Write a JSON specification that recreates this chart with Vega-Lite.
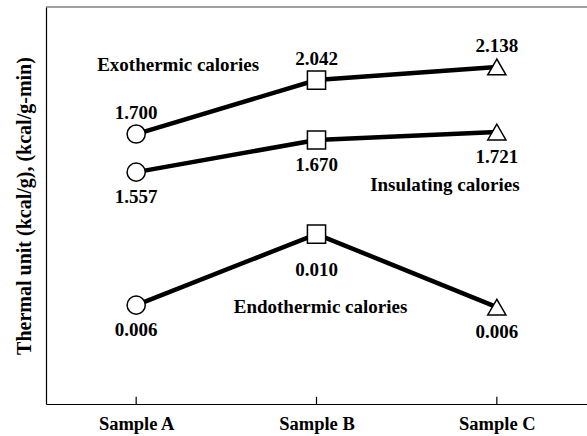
{
  "$schema": "https://vega.github.io/schema/vega-lite/v6.json",
  "width": 541,
  "height": 397,
  "autosize": {"type": "none"},
  "padding": {"left": 46, "top": 7, "right": 0, "bottom": 32},
  "background": "white",
  "config": {"view": {"stroke": null}, "font": "Liberation Serif"},
  "datasets": {
    "points": [
      {"series": "Exothermic calories", "sample": "Sample A", "plot": 68.0, "value": "1.700", "place": "above"},
      {"series": "Exothermic calories", "sample": "Sample B", "plot": 81.6, "value": "2.042", "place": "above"},
      {"series": "Exothermic calories", "sample": "Sample C", "plot": 84.9, "value": "2.138", "place": "above"},
      {"series": "Insulating calories", "sample": "Sample A", "plot": 58.4, "value": "1.557", "place": "below"},
      {"series": "Insulating calories", "sample": "Sample B", "plot": 66.5, "value": "1.670", "place": "below"},
      {"series": "Insulating calories", "sample": "Sample C", "plot": 68.5, "value": "1.721", "place": "below"},
      {"series": "Endothermic calories", "sample": "Sample A", "plot": 24.9, "value": "0.006", "place": "below"},
      {"series": "Endothermic calories", "sample": "Sample B", "plot": 42.8, "value": "0.010", "place": "far"},
      {"series": "Endothermic calories", "sample": "Sample C", "plot": 24.4, "value": "0.006", "place": "below"}
    ],
    "notes": [
      {"series": "Exothermic calories", "sample": "Sample A", "plot": 85.4},
      {"series": "Insulating calories", "sample": "Sample C", "plot": 55.2},
      {"series": "Endothermic calories", "sample": "Sample B", "plot": 24.4}
    ],
    "ticks": [
      {"sample": "Sample A", "from": 0, "to": 1.8},
      {"sample": "Sample B", "from": 0, "to": 1.8},
      {"sample": "Sample C", "from": 0, "to": 1.8}
    ]
  },
  "layer": [
    {
      "data": {"name": "points"},
      "mark": {"type": "line", "color": "black", "strokeWidth": 4.5},
      "encoding": {
        "x": {
          "field": "sample", "type": "ordinal",
          "scale": {"type": "point", "padding": 0.5},
          "sort": ["Sample A", "Sample B", "Sample C"],
          "axis": {
            "title": null, "labelAngle": 0, "labelFontSize": 18.5, "labelFontWeight": "bold",
            "labelColor": "black", "domainColor": "black", "domainWidth": 1.2,
            "ticks": false, "labelPadding": 10, "grid": false
          }
        },
        "y": {
          "field": "plot", "type": "quantitative",
          "scale": {"domain": [0, 100], "nice": false, "zero": true},
          "axis": {
            "title": "Thermal unit (kcal/g), (kcal/g-min)", "titleFontSize": 20, "titleFontWeight": "bold",
            "titleColor": "black", "titlePadding": 12, "labels": false, "ticks": false, "grid": false,
            "domainColor": "black", "domainWidth": 1.2
          }
        },
        "detail": {"field": "series"}
      }
    },
    {
      "data": {"values": [{}]},
      "mark": {"type": "rule", "color": "#444", "strokeWidth": 1},
      "encoding": {"y": {"datum": 100}}
    },
    {
      "data": {"name": "ticks"},
      "mark": {"type": "rule", "color": "black", "strokeWidth": 1.2},
      "encoding": {
        "x": {"field": "sample", "type": "ordinal", "sort": ["Sample A", "Sample B", "Sample C"]},
        "y": {"field": "from", "type": "quantitative"},
        "y2": {"field": "to"}
      }
    },
    {
      "data": {"name": "points"},
      "mark": {"type": "point", "filled": true, "fill": "white", "stroke": "black", "strokeWidth": 1.5, "opacity": 1},
      "encoding": {
        "x": {"field": "sample", "type": "ordinal", "sort": ["Sample A", "Sample B", "Sample C"]},
        "y": {"field": "plot", "type": "quantitative"},
        "shape": {
          "field": "sample", "type": "nominal",
          "scale": {"domain": ["Sample A", "Sample B", "Sample C"], "range": ["circle", "square", "triangle-up"]},
          "legend": null
        },
        "size": {"value": 330}
      }
    },
    {
      "data": {"name": "points"},
      "transform": [{"filter": "datum.place === 'above'"}],
      "mark": {"type": "text", "fontSize": 19, "fontWeight": "bold", "color": "black", "baseline": "middle", "dy": -21},
      "encoding": {
        "x": {"field": "sample", "type": "ordinal", "sort": ["Sample A", "Sample B", "Sample C"]},
        "y": {"field": "plot", "type": "quantitative"},
        "text": {"field": "value"}
      }
    },
    {
      "data": {"name": "points"},
      "transform": [{"filter": "datum.place === 'below'"}],
      "mark": {"type": "text", "fontSize": 19, "fontWeight": "bold", "color": "black", "baseline": "middle", "dy": 25},
      "encoding": {
        "x": {"field": "sample", "type": "ordinal", "sort": ["Sample A", "Sample B", "Sample C"]},
        "y": {"field": "plot", "type": "quantitative"},
        "text": {"field": "value"}
      }
    },
    {
      "data": {"name": "points"},
      "transform": [{"filter": "datum.place === 'far'"}],
      "mark": {"type": "text", "fontSize": 19, "fontWeight": "bold", "color": "black", "baseline": "middle", "dy": 36},
      "encoding": {
        "x": {"field": "sample", "type": "ordinal", "sort": ["Sample A", "Sample B", "Sample C"]},
        "y": {"field": "plot", "type": "quantitative"},
        "text": {"field": "value"}
      }
    },
    {
      "data": {"name": "notes"},
      "transform": [{"filter": "datum.series === 'Exothermic calories'"}],
      "mark": {"type": "text", "fontSize": 19, "fontWeight": "bold", "color": "black", "baseline": "middle", "dx": 42},
      "encoding": {
        "x": {"field": "sample", "type": "ordinal", "sort": ["Sample A", "Sample B", "Sample C"]},
        "y": {"field": "plot", "type": "quantitative"},
        "text": {"field": "series"}
      }
    },
    {
      "data": {"name": "notes"},
      "transform": [{"filter": "datum.series === 'Insulating calories'"}],
      "mark": {"type": "text", "fontSize": 19, "fontWeight": "bold", "color": "black", "baseline": "middle", "dx": -52},
      "encoding": {
        "x": {"field": "sample", "type": "ordinal", "sort": ["Sample A", "Sample B", "Sample C"]},
        "y": {"field": "plot", "type": "quantitative"},
        "text": {"field": "series"}
      }
    },
    {
      "data": {"name": "notes"},
      "transform": [{"filter": "datum.series === 'Endothermic calories'"}],
      "mark": {"type": "text", "fontSize": 19, "fontWeight": "bold", "color": "black", "baseline": "middle", "dx": 4},
      "encoding": {
        "x": {"field": "sample", "type": "ordinal", "sort": ["Sample A", "Sample B", "Sample C"]},
        "y": {"field": "plot", "type": "quantitative"},
        "text": {"field": "series"}
      }
    }
  ]
}
